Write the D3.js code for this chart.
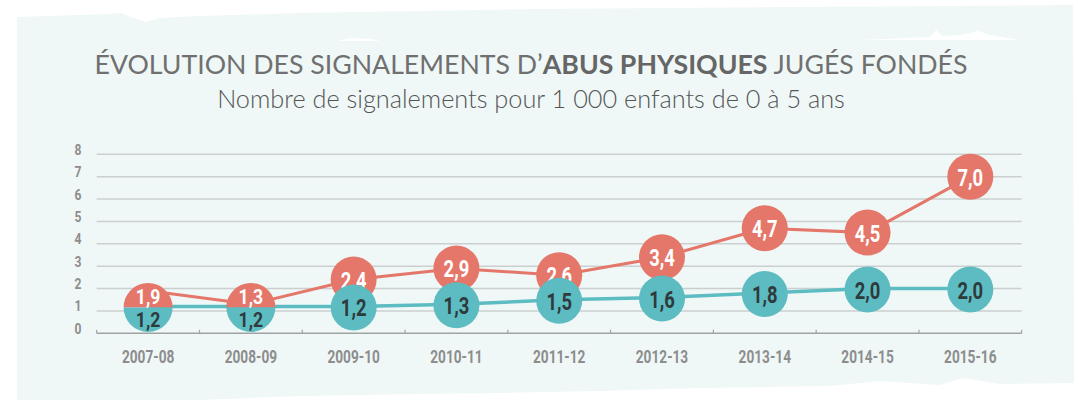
<!DOCTYPE html>
<html><head><meta charset="utf-8">
<script src="https://cdn.jsdelivr.net/npm/d3@7"></script>
<style>
html,body{margin:0;padding:0;background:#fff;}
svg{display:block;}
.cond{font-family:Roboto,"Liberation Sans",sans-serif;font-weight:700;}
</style></head>
<body><svg id="c" width="1079" height="400"></svg>
<script>
const categories = ["2007-08","2008-09","2009-10","2010-11","2011-12","2012-13","2013-14","2014-15","2015-16"];
const physiques = [1.9,1.3,2.4,2.9,2.6,3.4,4.7,4.5,7.0];   // red series
const autres    = [1.2,1.2,1.2,1.3,1.5,1.6,1.8,2.0,2.0];   // teal series
const yTicks = [0,1,2,3,4,5,6,7,8];
const titleParts = [["ÉVOLUTION DES SIGNALEMENTS D’",400],["ABUS PHYSIQUES",700],[" JUGÉS FONDÉS",400]];
const subtitle = "Nombre de signalements pour 1 000 enfants de 0 à 5 ans";

const RED="#e5776a", TEAL="#5dbcc2", GRID="#cbcfcf", AX="#a0a3a3", LBL="#8d8d8d", DARK="#2e3a3b";
const fmt = v => d3.format(".1f")(v).replace(".", ",");

const svg = d3.select("#c");
// background brush shape
svg.append("path")
  .attr("d","M17,17 L110,14 L122,13 L130,17 L146,22 L160,18 L200,16 L300,13 L540,9 L800,7 L1073,5 L1074,383 L1000,384 L962,378 L940,385 L880,381 L830,386 L700,388 L600,391 L500,393 L420,394 L300,396 L200,400 L17,400 Z")
  .attr("fill","#eff8f7");
svg.append("path").attr("d","M860,40 L930,37 L936,30 L942,36 L960,35 L978,31 L990,35 L1020,40 Z").attr("fill","#fff");
svg.append("path").attr("d","M338,41 L350,38 L372,39 L380,41 Z").attr("fill","#fff");

const x = d3.scaleBand().domain(categories).range([96.7,1021.7]).padding(0);
const y = d3.scaleLinear().domain([0,8]).range([333.3,154.3]);
const cx = c => x(c) + x.bandwidth()/2;

// condensed text helper: bold sans squeezed horizontally
function ctext(g, tx, ty, str, size, sx, fill){
  return g.append("text").attr("class","cond")
    .attr("transform",`translate(${tx},${ty}) scale(${sx},1)`)
    .attr("text-anchor","middle").style("font-size",size+"px").attr("fill",fill).text(str);
}

// title
const title = svg.append("text").attr("x",531).attr("y",74).attr("text-anchor","middle")
  .style("font-family","Lato, 'Open Sans', sans-serif").style("font-size","25px").attr("fill","#707070");
titleParts.forEach(p => title.append("tspan").style("font-weight",p[1]).attr("fill",p[1]>400?"#666":null).text(p[0]));
const tw = title.node().getComputedTextLength();
title.style("font-size", (25*873/tw).toFixed(2)+"px");
const sub = svg.append("text").attr("x",531).attr("y",108).attr("text-anchor","middle")
  .style("font-family","Lato, 'Open Sans', sans-serif").style("font-weight",300).style("font-size","21px")
  .attr("fill","#555").text(subtitle);
const sw = sub.node().getComputedTextLength();
sub.style("font-size", (21*628/sw).toFixed(2)+"px");

// grid lines
svg.append("g").selectAll("line").data(yTicks.filter(d=>d>0)).join("line")
  .attr("x1",x.range()[0]).attr("x2",x.range()[1])
  .attr("y1",d=>y(d)).attr("y2",d=>y(d))
  .attr("stroke",GRID).attr("stroke-width",1.5);
// y labels
const gy = svg.append("g");
yTicks.forEach(d => ctext(gy, 78, y(d)+0.5, d, 15.5, 0.78, LBL));
// x axis line
svg.append("line").attr("x1",x.range()[0]).attr("x2",x.range()[1])
  .attr("y1",y(0)).attr("y2",y(0)).attr("stroke",AX).attr("stroke-width",1.5);
const edges = categories.map(c=>x(c)).concat([x.range()[1]]);
svg.append("g").selectAll("line").data(edges).join("line")
  .attr("x1",d=>d).attr("x2",d=>d).attr("y1",y(0)).attr("y2",y(0)-3.5)
  .attr("stroke",AX).attr("stroke-width",1.2);
// x labels
const gx = svg.append("g");
categories.forEach(c => ctext(gx, cx(c), 362.5, c, 18, 0.76, LBL));

// lines
const line = d3.line().x((d,i)=>cx(categories[i])).y(d=>y(d));
svg.append("path").datum(physiques).attr("d",line).attr("fill","none").attr("stroke",RED).attr("stroke-width",3);
svg.append("path").datum(autres).attr("d",line).attr("fill","none").attr("stroke",TEAL).attr("stroke-width",3.5);

const R = 23, FS = 23, SX = 0.8;
const pts = categories.map((c,i)=>({c, r:physiques[i], t:autres[i], split: Math.abs(y(physiques[i])-y(autres[i])) < R}));

// red circles
const gR = svg.append("g");
pts.filter(p=>!p.split).forEach(p=>{
  gR.append("circle").attr("cx",cx(p.c)).attr("cy",y(p.r)).attr("r",R).attr("fill",RED);
  ctext(gR, cx(p.c), y(p.r)+9, fmt(p.r), FS, SX, "#fff");
});
// teal circles
const gT = svg.append("g");
pts.filter(p=>!p.split).forEach(p=>{
  gT.append("circle").attr("cx",cx(p.c)).attr("cy",y(p.t)+1).attr("r",R).attr("fill",TEAL);
  ctext(gT, cx(p.c), y(p.t)+10, fmt(p.t), FS, SX, DARK);
});
// split circles where the two values overlap
const Rs = 24.5;
const arcTop = d3.arc().innerRadius(0).outerRadius(Rs).startAngle(-Math.PI/2).endAngle(Math.PI/2);
const arcBot = d3.arc().innerRadius(0).outerRadius(Rs).startAngle(Math.PI/2).endAngle(Math.PI*1.5);
pts.filter(p=>p.split).forEach(p=>{
  const g = svg.append("g").attr("transform",`translate(${cx(p.c)},${y(p.t)+1})`);
  g.append("path").attr("d",arcTop()).attr("fill",RED);
  g.append("path").attr("d",arcBot()).attr("fill",TEAL);
  ctext(g, 0, -3.5, fmt(p.r), 20, 0.88, "#fff");
  ctext(g, 0, 20, fmt(p.t), 20, 0.88, DARK);
});
</script></body></html>
